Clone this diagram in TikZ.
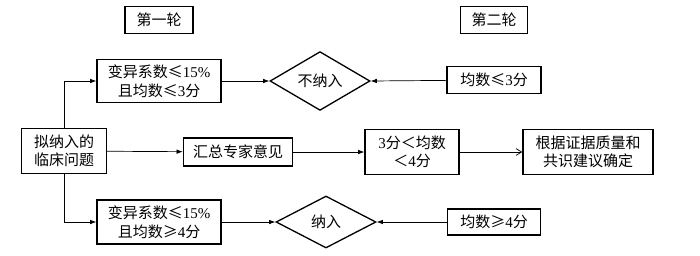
\documentclass[tikz,border=0pt]{standalone}
\usepackage{fontspec}
\setmainfont{Liberation Serif}
\newfontfamily\cjk{Noto Sans CJK SC}
\usepackage{tikz}
\usetikzlibrary{arrows.meta, positioning, shapes.geometric}
\newcommand{\num}[1]{{\rmfamily #1}}

\begin{document}
\begin{tikzpicture}[x=1pt, y=1pt,
    procbox/.style={rectangle, draw=black, line width=1.3pt, align=center,
      inner sep=0pt, font=\cjk\fontsize{15}{18.5}\selectfont},
    decbox/.style={diamond, draw=black, line width=1.3pt, align=center,
      inner sep=0pt, minimum width=100pt, minimum height=52pt,
      font=\cjk\fontsize{15}{18.5}\selectfont},
    arrow/.style={-{Latex[length=2.2mm, width=1.6mm]}, line width=0.7pt, black},
    openarrow/.style={-{Straight Barb[length=2mm, width=2.4mm]}, line width=0.7pt, black}]
    \useasboundingbox (0,0) rectangle (700,-255);
    % titles
    \node[procbox, minimum width=68pt, minimum height=27pt] (round1) at (159,-20) {第一轮};
    \node[procbox, minimum width=67pt, minimum height=27pt] (round2) at (494,-20) {第二轮};
    % first round
    \node[procbox, minimum width=85pt, minimum height=45pt] (question) at (64,-151)
      {拟纳入的\\临床问题};
    \node[procbox, minimum width=124pt, minimum height=43pt] (low) at (159,-81)
      {变异系数≤\num{15\%}\\且均数≤\num{3}分};
    \node[procbox, minimum width=124pt, minimum height=44pt] (high) at (159,-222)
      {变异系数≤\num{15\%}\\且均数≥\num{4}分};
    \node[procbox, minimum width=109pt, minimum height=28pt] (summary) at (238,-152)
      {汇总专家意见};
    \node[decbox] (exclude) at (320,-81) {不纳入};
    \node[decbox] (include) at (326,-222) {纳入};
    % second round
    \node[procbox, minimum width=94pt, minimum height=27pt] (lowtwo) at (494,-80)
      {均数≤\num{3}分};
    \node[procbox, minimum width=94pt, minimum height=45pt] (middle) at (412,-152)
      {\num{3}分＜均数\\＜\num{4}分};
    \node[procbox, minimum width=93pt, minimum height=26pt] (hightwo) at (494,-222)
      {均数≥\num{4}分};
    \node[procbox, minimum width=130pt, minimum height=45pt] (decide) at (588,-152)
      {根据证据质量和\\共识建议确定};
    \draw[arrow] (question.north) |- (low.west);
    \draw[arrow] (question.south) |- (high.west);
    \draw[arrow] (question) -- (summary);
    \draw[arrow] (summary) -- (middle);
    \draw[openarrow] (middle) -- (decide);
    \draw[arrow] (low) -- (exclude);
    \draw[arrow] (high) -- (include);
    \draw[arrow] (lowtwo) -- (exclude.east);
    \draw[arrow] (hightwo) -- (include.east);
  \end{tikzpicture}
\end{document}
